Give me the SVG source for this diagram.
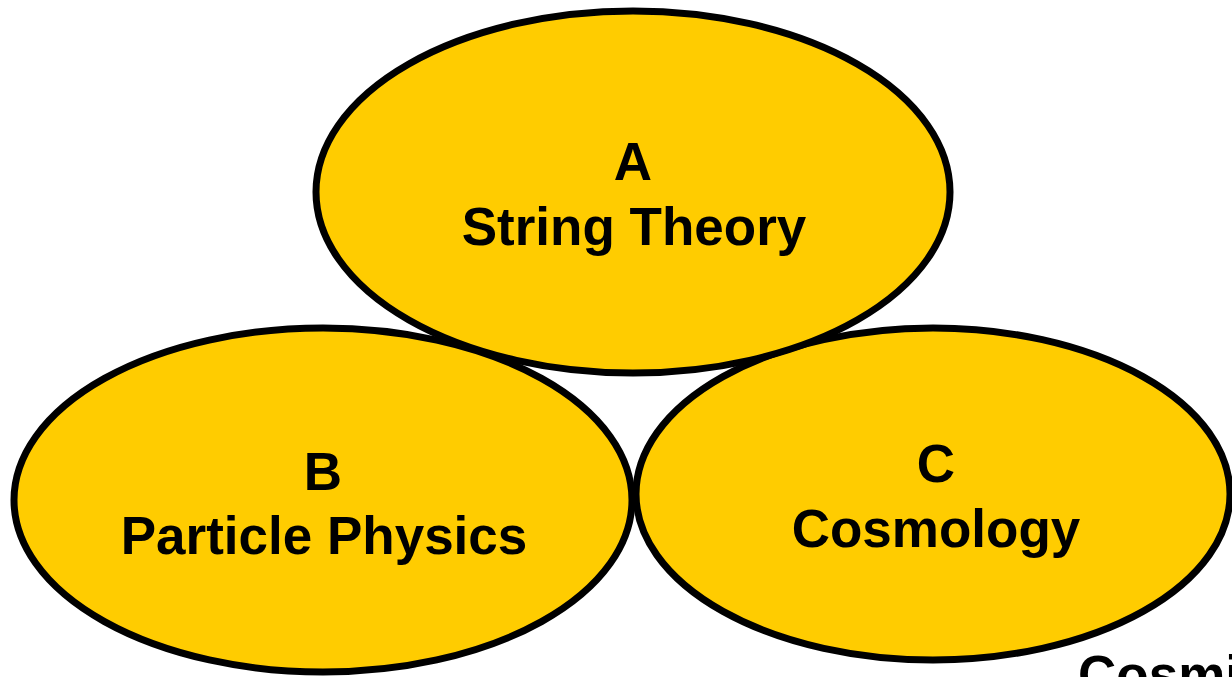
<svg xmlns="http://www.w3.org/2000/svg" width="1232" height="677" viewBox="0 0 1232 677">
<style>
.node{fill:#FFCC00;stroke:#000;stroke-width:7}
.lbl{font-family:"Liberation Sans",Arial,sans-serif;font-weight:bold;font-size:53px;fill:#000;text-anchor:middle}
</style>
<rect width="1232" height="677" fill="#fff"/>
<g id="connectors"></g>
<g id="nodeB">
<ellipse class="node" cx="323" cy="500" rx="309" ry="172"/>
<text class="lbl" x="323" y="490">B</text>
<text class="lbl" x="324" y="554">Particle Physics</text>
</g>
<g id="nodeC">
<ellipse class="node" cx="933" cy="494" rx="297" ry="166"/>
<text class="lbl" x="936" y="482">C</text>
<text class="lbl" x="936" y="547">Cosmology</text>
</g>
<g id="nodeA">
<ellipse class="node" cx="633" cy="192" rx="317" ry="181"/>
<text class="lbl" x="633" y="180">A</text>
<text class="lbl" x="634" y="245">String Theory</text>
</g>
<g id="partial">
<text class="lbl" x="1078" y="693" style="text-anchor:start">Cosmi</text>
</g>
</svg>
